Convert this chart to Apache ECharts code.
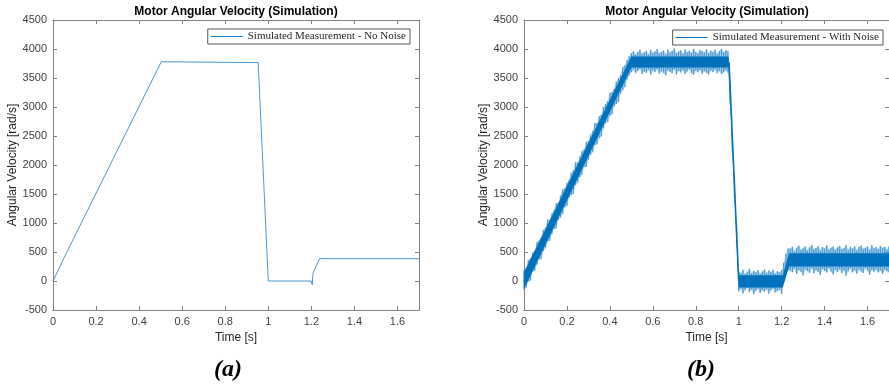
<!DOCTYPE html>
<html>
<head>
<meta charset="utf-8">
<script src="https://cdn.jsdelivr.net/npm/echarts@6/dist/echarts.min.js"></script>
<style>
  html, body { margin: 0; padding: 0; background: #fff; }
  #main { width: 889px; height: 390px; }
</style>
</head>
<body>
<div id="main"></div>
<script>
var chart = echarts.init(document.getElementById('main'));

// ticks
var xTicks = [0, 0.2, 0.4, 0.6, 0.8, 1, 1.2, 1.4, 1.6];

// (a) no noise: breakpoints of the simulated speed
var cleanT = [0, 0.05, 0.503, 0.953, 1.0, 1.2, 1.204, 1.208, 1.238, 1.7];
var cleanV = [0, 390, 3780, 3765, 0, 0, -65, 140, 385, 385];

// (b) with noise: centre of the trace
var noisyT = [0, 0.5, 0.955, 1.0, 1.205, 1.232, 1.7];
var noisyV = [0, 3770, 3770, 0, 0, 365, 365];

// (b) with noise: dense core of the trace
var coreT = [0, 0.5, 0.953, 1.0, 1.205, 1.235, 1.7];
var coreHi = [150, 3870, 3870, 100, 100, 480, 480];
var coreLo = [-140, 3680, 3680, -110, -110, 250, 250];

// (b) with noise: spike extremes, sampled every 0.01 s from t = 0
var spikeHi = [
  180, 225, 360, 390, 490, 520, 670, 700, 750, 880,
  920, 1060, 1055, 1165, 1225, 1340, 1350, 1475, 1580, 1595,
  1690, 1735, 1865, 1905, 2050, 2040, 2145, 2235, 2270, 2400,
  2410, 2525, 2590, 2720, 2725, 2840, 2865, 3000, 3050, 3105,
  3240, 3260, 3315, 3440, 3500, 3555, 3685, 3720, 3810,
  3880, 3930, 3960, 3905, 3950, 3990, 3920, 3945, 3970, 3910,
  3985, 3935, 3960, 4000, 3925, 3950, 3975, 3915, 3990, 3940,
  3965, 4010, 3930, 3955, 3980, 3920, 3995, 3945, 3970, 3935,
  4005, 3950, 3925, 3985, 3960, 3940, 4000, 3930, 3975, 3950,
  3990, 3920, 3965, 4005, 3945, 3980, 3960,
  3380, 2570, 1770, 960,
  170, 140, 195, 120, 160, 210, 135, 175, 150, 190,
  125, 165, 200, 140, 180, 155, 195, 130, 170, 150, 185,
  320, 470, 560,
  560, 590, 520, 575, 610, 540, 565, 595, 530, 580,
  620, 550, 570, 600, 525, 585, 560, 615, 545, 575,
  595, 535, 580, 605, 550, 570, 625, 540, 590, 560,
  600, 530, 585, 610, 555, 575, 595, 540, 620, 565,
  585, 550, 605, 575, 590, 545, 600
];
var spikeLo = [
  -150, -115, -10, 5, 160, 175, 280, 375, 375, 515,
  565, 685, 695, 805, 895, 905, 1055, 1095, 1155, 1270,
  1295, 1435, 1480, 1500, 1650, 1695, 1790, 1830, 1960, 1965,
  2085, 2175, 2220, 2345, 2355, 2460, 2490, 2630, 2715, 2740,
  2845, 2875, 3010, 3050, 3090, 3230, 3290, 3345, 3470,
  3545, 3600, 3640, 3580, 3620, 3655, 3570, 3610, 3590, 3640,
  3560, 3625, 3600, 3650, 3575, 3615, 3590, 3545, 3630, 3605,
  3580, 3645, 3560, 3620, 3595, 3635, 3570, 3610, 3650, 3585,
  3555, 3625, 3600, 3640, 3575, 3615, 3590, 3560, 3630, 3605,
  3645, 3580, 3620, 3565, 3600, 3635, 3590,
  3040, 2240, 1440, 640,
  -180, -140, -215, -160, -120, -195, -150, -230, -170, -135,
  -205, -160, -185, -145, -220, -165, -130, -200, -175, -150, -225,
  -20, 110, 190,
  180, 150, 210, 120, 190, 160, 95, 200, 170, 140,
  215, 130, 185, 160, 100, 205, 175, 145, 220, 165,
  110, 190, 155, 200, 135, 180, 90, 170, 210, 150,
  185, 125, 195, 165, 140, 215, 175, 105, 190, 160,
  200, 145, 180, 120, 195, 170, 150
];
var spikeT = spikeHi.map(function (_, i) { return +(i * 0.01).toFixed(2); });

var blue = '#0072BD';
var axisColor = '#808080';
var textColor = '#404040';
var nameNoNoise = 'Simulated Measurement - No Noise';
var nameNoise = 'Simulated Measurement - With Noise';

function band(ts, hi, lo, fill) {
    return function (params, api) {
        var pts = [];
        for (var i = 0; i < ts.length; i++) pts.push(api.coord([ts[i], hi[i]]));
        for (var j = ts.length - 1; j >= 0; j--) pts.push(api.coord([ts[j], lo[j]]));
        return { type: 'polygon', shape: { points: pts }, style: { fill: fill } };
    };
}

// one thin vertical stroke per sample, from its low to its high extreme
function spikes(ts, hi, lo, stroke) {
    return function (params, api) {
        var kids = [];
        for (var i = 0; i < ts.length; i++) {
            var a = api.coord([ts[i], hi[i]]);
            var b = api.coord([ts[i], lo[i]]);
            kids.push({ type: 'line', shape: { x1: a[0], y1: a[1], x2: b[0], y2: b[1] },
                        style: { stroke: stroke, lineWidth: 1.3 } });
        }
        return { type: 'group', children: kids };
    };
}

function xAx(grid, pos, main) {
    return {
        type: 'value', gridIndex: grid, position: pos, min: 0, max: 1.7,
        name: main ? 'Time [s]' : '', nameLocation: 'middle', nameGap: 22,
        nameTextStyle: { fontFamily: 'Liberation Sans', fontSize: 12, color: '#262626' },
        axisLine: { show: true, onZero: false, lineStyle: { color: axisColor, width: 1 } },
        axisTick: { show: true, inside: true, length: 4, customValues: xTicks, lineStyle: { color: axisColor } },
        axisLabel: { show: main, customValues: xTicks, margin: 6, fontFamily: 'Liberation Sans', fontSize: 11, color: textColor },
        splitLine: { show: false }
    };
}

function yAx(grid, pos, main) {
    return {
        type: 'value', gridIndex: grid, position: pos, min: -500, max: 4500, interval: 500,
        name: main ? 'Angular Velocity [rad/s]' : '', nameLocation: 'middle', nameGap: 33,
        nameTextStyle: { fontFamily: 'Liberation Sans', fontSize: 12, color: '#262626' },
        axisLine: { show: true, onZero: false, lineStyle: { color: axisColor, width: 1 } },
        axisTick: { show: true, inside: true, length: 4, lineStyle: { color: axisColor } },
        axisLabel: { show: main, margin: 6, fontFamily: 'Liberation Sans', fontSize: 11, color: textColor,
                     formatter: function (v) { return String(v); } },
        splitLine: { show: false }
    };
}

function legendBox(name, right, top) {
    return {
        data: [name], right: right, top: top, orient: 'horizontal',
        icon: 'rect', itemWidth: 32, itemHeight: 1, itemGap: 0,
        padding: [2, 4, 2, 3], borderColor: '#555', borderWidth: 1, borderRadius: 0,
        backgroundColor: '#fff',
        textStyle: { fontFamily: 'Liberation Serif', fontSize: 11, color: '#262626' }
    };
}

function label(text, x, y, font) {
    return { type: 'text', x: x, y: y, style: { text: text, font: font, fill: '#000', textAlign: 'center', textVerticalAlign: 'middle' } };
}

var option = {
    animation: false,
    backgroundColor: '#fff',
    grid: [
        { left: 53, top: 20, width: 366, height: 290 },
        { left: 524, top: 20, width: 366, height: 290 }
    ],
    xAxis: [xAx(0, 'bottom', true), xAx(0, 'top', false), xAx(1, 'bottom', true), xAx(1, 'top', false)],
    yAxis: [yAx(0, 'left', true), yAx(0, 'right', false), yAx(1, 'left', true), yAx(1, 'right', false)],
    legend: [legendBox(nameNoNoise, 479, 29), legendBox(nameNoise, 6, 30)],
    graphic: [
        label('Motor Angular Velocity (Simulation)', 236, 12, 'bold 12px "Liberation Sans"'),
        label('Motor Angular Velocity (Simulation)', 707, 12, 'bold 12px "Liberation Sans"'),
        label('(a)', 228, 370, 'italic bold 24px "Liberation Serif"'),
        label('(b)', 701, 370, 'italic bold 24px "Liberation Serif"')
    ],
    series: [
        {
            name: nameNoNoise, type: 'line', xAxisIndex: 0, yAxisIndex: 0,
            data: cleanT.map(function (t, i) { return [t, cleanV[i]]; }),
            symbol: 'none', showSymbol: false,
            itemStyle: { color: '#1a7fc6' },
            lineStyle: { color: '#1a7fc6', width: 0.8 }
        },
        {
            name: 'envelope', type: 'custom', xAxisIndex: 2, yAxisIndex: 2,
            data: [[0, 0]], renderItem: band(spikeT, spikeHi, spikeLo, 'rgba(0,114,189,0.3)'),
            silent: true
        },
        {
            name: 'spikes', type: 'custom', xAxisIndex: 2, yAxisIndex: 2,
            data: [[0, 0]], renderItem: spikes(spikeT, spikeHi, spikeLo, '#4f9cd6'),
            silent: true
        },
        {
            name: 'centre', type: 'line', xAxisIndex: 2, yAxisIndex: 2,
            data: noisyT.map(function (t, i) { return [t, noisyV[i]]; }),
            symbol: 'none', showSymbol: false, silent: true,
            lineStyle: { color: blue, width: 1.6 }
        },
        {
            name: nameNoise, type: 'custom', xAxisIndex: 2, yAxisIndex: 2,
            data: [[0, 0]], renderItem: band(coreT, coreHi, coreLo, blue),
            itemStyle: { color: blue },
            silent: true
        }
    ]
};

chart.setOption(option);
</script>
</body>
</html>
